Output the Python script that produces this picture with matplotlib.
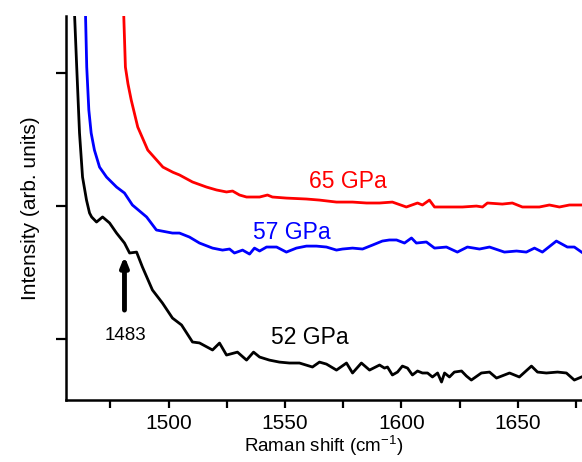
import numpy as np
import matplotlib
matplotlib.use("Agg")
import matplotlib.pyplot as plt
from matplotlib.ticker import MultipleLocator, NullFormatter

plt.rcParams['font.family'] = ['Liberation Sans', 'DejaVu Sans']
plt.rcParams['mathtext.fontset'] = 'custom'
plt.rcParams['mathtext.rm'] = 'Liberation Sans'

# Raman spectra (x: Raman shift in cm-1, y: intensity, arb. units)
x_52 = [1459.5, 1459.7, 1460.6, 1461.8, 1463.1, 1464.8, 1466.1, 1467.0, 1469.1, 1471.7,
        1474.7, 1477.7, 1481.1, 1483.3, 1486.3, 1488.8, 1493.1, 1497.4, 1501.7, 1505.6,
        1510.3, 1513.3, 1518.9, 1521.9, 1524.9, 1529.6, 1533.5, 1536.5, 1539.1, 1543.3,
        1547.6, 1551.9, 1556.2, 1561.8, 1564.8, 1567.8, 1572.1, 1576.4, 1579.0, 1582.8,
        1586.3, 1590.6, 1592.7, 1594.0, 1596.1, 1598.3, 1600.4, 1602.6, 1604.7, 1606.9,
        1609.0, 1611.2, 1613.3, 1615.5, 1617.2, 1618.5, 1620.6, 1622.7, 1625.8, 1627.9,
        1630.0, 1634.3, 1637.8, 1640.8, 1646.4, 1650.6, 1655.8, 1658.4, 1662.2, 1667.0,
        1670.8, 1674.2, 1677.3]
y_52 = [3.62, 3.425, 3.041, 2.545, 2.214, 2.041, 1.944, 1.914, 1.876, 1.914,
        1.869, 1.793, 1.718, 1.643, 1.650, 1.538, 1.365, 1.267, 1.154, 1.102,
        0.974, 0.967, 0.914, 0.966, 0.876, 0.898, 0.838, 0.898, 0.861, 0.838,
        0.823, 0.816, 0.816, 0.786, 0.823, 0.808, 0.763, 0.816, 0.741, 0.816,
        0.763, 0.801, 0.778, 0.786, 0.726, 0.748, 0.793, 0.778, 0.726, 0.756,
        0.741, 0.741, 0.711, 0.741, 0.673, 0.741, 0.711, 0.748, 0.756, 0.718,
        0.688, 0.741, 0.748, 0.703, 0.741, 0.711, 0.793, 0.748, 0.741, 0.748,
        0.741, 0.688, 0.711]

x_57 = [1464.3, 1464.4, 1464.9, 1465.8, 1466.8, 1468.2, 1470.4, 1473.4, 1477.7, 1481.1,
        1484.5, 1490.6, 1494.8, 1501.7, 1504.7, 1509.0, 1513.3, 1518.9, 1523.2, 1526.2,
        1528.3, 1531.8, 1534.8, 1536.9, 1539.1, 1542.1, 1546.4, 1550.6, 1554.9, 1559.2,
        1563.5, 1567.8, 1572.1, 1574.7, 1579.0, 1583.3, 1587.6, 1591.8, 1594.8, 1597.9,
        1601.3, 1604.3, 1606.4, 1610.7, 1614.2, 1619.3, 1624.0, 1628.3, 1633.5, 1637.8,
        1644.2, 1649.4, 1653.6, 1657.1, 1660.5, 1666.5, 1671.2, 1674.2, 1677.3]
y_57 = [3.62, 3.417, 3.041, 2.718, 2.545, 2.417, 2.289, 2.214, 2.139, 2.094,
        2.004, 1.914, 1.816, 1.793, 1.793, 1.763, 1.718, 1.680, 1.665, 1.673,
        1.643, 1.665, 1.635, 1.680, 1.658, 1.688, 1.688, 1.650, 1.680, 1.695,
        1.695, 1.688, 1.665, 1.673, 1.680, 1.673, 1.703, 1.733, 1.741, 1.741,
        1.718, 1.756, 1.718, 1.726, 1.680, 1.688, 1.650, 1.688, 1.673, 1.688,
        1.650, 1.658, 1.650, 1.680, 1.650, 1.733, 1.688, 1.688, 1.650]

x_65 = [1480.7, 1480.8, 1481.5, 1482.6, 1484.0, 1486.8, 1491.1, 1494.5, 1497.6, 1501.9,
        1504.7, 1510.3, 1516.3, 1520.6, 1524.9, 1527.5, 1530.5, 1533.5, 1539.1, 1542.5,
        1544.6, 1550.6, 1559.2, 1564.8, 1572.1, 1579.0, 1585.0, 1590.6, 1596.1, 1602.1,
        1606.9, 1609.0, 1612.0, 1614.2, 1619.3, 1626.2, 1632.2, 1634.8, 1636.9, 1643.3,
        1647.6, 1651.9, 1659.2, 1663.5, 1667.8, 1672.1, 1677.3]
y_65 = [3.62, 3.425, 3.041, 2.915, 2.793, 2.590, 2.417, 2.350, 2.289, 2.250,
        2.230, 2.177, 2.139, 2.117, 2.102, 2.109, 2.079, 2.064, 2.064, 2.079,
        2.064, 2.056, 2.049, 2.041, 2.026, 2.026, 2.019, 2.019, 2.026, 1.989,
        2.019, 2.004, 2.041, 1.989, 1.989, 1.989, 1.996, 1.989, 2.019, 2.011,
        2.019, 1.989, 1.989, 2.004, 1.989, 2.004, 2.004]

peak_pos = 1483

fig = plt.figure(figsize=(5.82, 4.62), dpi=100)
ax = fig.add_axes([0.1134, 0.1342, 0.8866, 0.8312])

ax.plot(x_52, y_52, color='black', lw=2.0, solid_joinstyle='round')
ax.plot(x_57, y_57, color='#0000ff', lw=2.0, solid_joinstyle='round')
ax.plot(x_65, y_65, color='#ff0000', lw=2.0, solid_joinstyle='round')

ax.text(1576.8, 2.177, '65 GPa', color='#ff0000', fontsize=16.5, ha='center', va='center')
ax.text(1553.0, 1.80, '57 GPa', color='#0000ff', fontsize=16.5, ha='center', va='center')
ax.text(1560.5, 1.011, '52 GPa', color='black', fontsize=16.5, ha='center', va='center')

# arrow marking the weak peak
ax.annotate('', xy=(1481.1, 1.62), xytext=(1481.1, 1.214),
            arrowprops=dict(arrowstyle='-|>,head_width=0.22,head_length=0.55',
                            color='black', lw=3.5, shrinkA=0, shrinkB=0))
ax.text(1481.5, 1.026, str(peak_pos), fontsize=13.5, ha='center', va='center')

ax.set_xlim(1456, 1677.5)
ax.set_ylim(0.538, 3.425)

ax.xaxis.set_major_locator(MultipleLocator(50))
ax.xaxis.set_minor_locator(MultipleLocator(25))
ax.set_yticks([1, 2, 3])
ax.yaxis.set_major_formatter(NullFormatter())

ax.tick_params(axis='both', which='both', direction='out', width=1.6, length=6,
               labelsize=15, pad=4)
ax.tick_params(axis='y', length=7)

for side in ['top', 'right']:
    ax.spines[side].set_visible(False)
for side in ['left', 'bottom']:
    ax.spines[side].set_linewidth(1.8)

ax.set_xlabel('Raman shift (cm$^{\\mathregular{-1}}$)', fontsize=13.5, labelpad=0)
ax.set_ylabel('Intensity (arb. units)', fontsize=15, labelpad=8)

fig.savefig('out.png', dpi=100)
